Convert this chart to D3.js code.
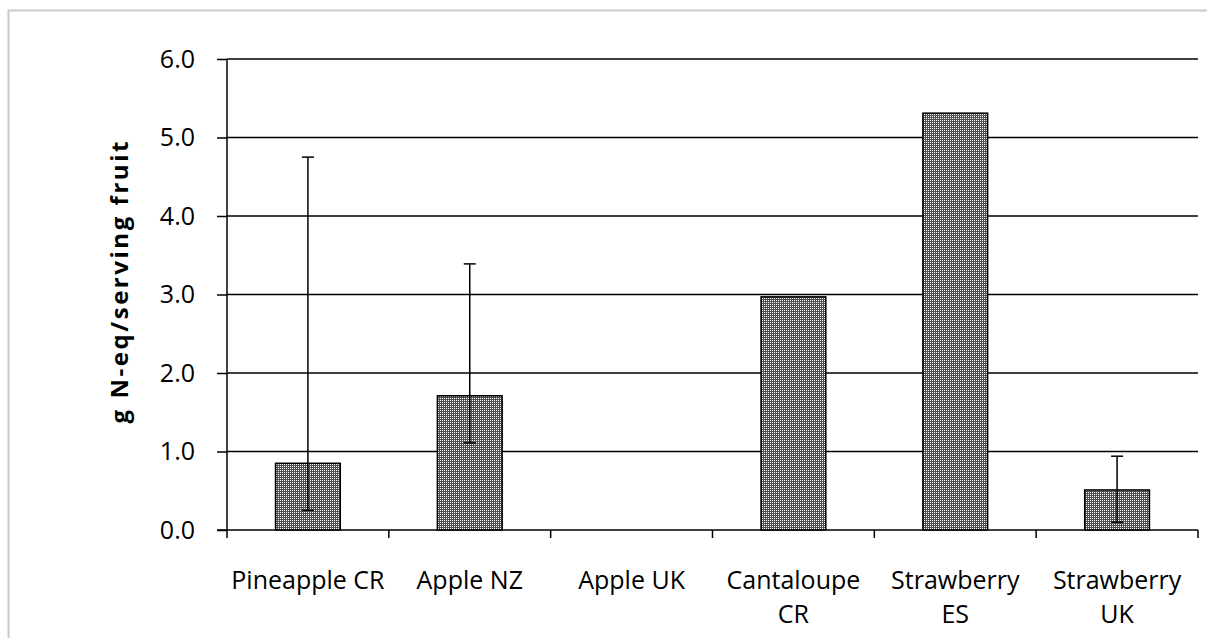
<!DOCTYPE html>
<html>
<head>
<meta charset="utf-8">
<script src="https://cdn.jsdelivr.net/npm/d3@7"></script>
<style>
  html, body { margin: 0; padding: 0; background: #fff; }
  svg { display: block; }
  text { font-family: "Open Sans", "Noto Sans", sans-serif; fill: #000; }
</style>
</head>
<body>
<svg id="chart" width="1207" height="638"></svg>
<script>
// Nitrogen footprint per serving of fruit, by product and origin
const categories = ["Pineapple CR", "Apple NZ", "Apple UK", "Cantaloupe CR", "Strawberry ES", "Strawberry UK"];
const labelLines = [["Pineapple CR"], ["Apple NZ"], ["Apple UK"], ["Cantaloupe", "CR"], ["Strawberry", "ES"], ["Strawberry", "UK"]];
const values   = [0.85, 1.71, 0, 2.97, 5.31, 0.51];
const errLow   = [0.25, 1.11, null, null, null, 0.10];
const errHigh  = [4.75, 3.39, null, null, null, 0.94];
const yTicks   = [0, 1, 2, 3, 4, 5, 6];
const yTitle   = "g N-eq/serving fruit";

const svg = d3.select("#chart");
const W = 1207, H = 638;
const plot = { left: 227, right: 1198, top: 59, bottom: 530 };

// chart frame
svg.append("rect")
  .attr("x", 8.5).attr("y", 10.5)
  .attr("width", W + 20).attr("height", H + 20)
  .attr("fill", "#fff").attr("stroke", "#cacaca").attr("stroke-width", 2);

// fine dotted fill for the bars
const defs = svg.append("defs");
const pat = defs.append("pattern")
  .attr("id", "dots").attr("patternUnits", "userSpaceOnUse")
  .attr("width", 2).attr("height", 2);
pat.append("rect").attr("width", 2).attr("height", 2).attr("fill", "#505050");
pat.append("rect").attr("width", 1).attr("height", 1).attr("fill", "#ffffff");

const x = d3.scaleBand()
  .domain(categories)
  .range([plot.left, plot.right])
  .paddingInner(0.6)
  .paddingOuter(0.3);

const y = d3.scaleLinear().domain([0, 6]).range([plot.bottom, plot.top]);

// horizontal gridlines
svg.append("g").selectAll("line")
  .data(yTicks.filter(d => d > 0))
  .join("line")
  .attr("x1", plot.left).attr("x2", plot.right)
  .attr("y1", d => y(d)).attr("y2", d => y(d))
  .attr("stroke", "#000").attr("stroke-width", 1.5);

// y axis
const yAxis = svg.append("g")
  .attr("transform", `translate(${plot.left},0)`)
  .call(d3.axisLeft(y).tickValues(yTicks).tickFormat(d3.format(".1f")).tickSize(10).tickPadding(22));
yAxis.select(".domain").attr("stroke", "#000").attr("stroke-width", 1.5).attr("d", `M0,${plot.top}V${plot.bottom}`);
yAxis.selectAll(".tick line").attr("stroke", "#000").attr("stroke-width", 1.5);
yAxis.selectAll(".tick text")
  .style("font-family", "'Open Sans', sans-serif")
  .style("font-size", "25px").attr("fill", "#262626");

// x axis baseline and category boundary ticks
const step = x.step();
const bounds = d3.range(categories.length + 1).map(i => plot.left + i * step);
svg.append("line")
  .attr("x1", plot.left - 10).attr("x2", plot.right)
  .attr("y1", plot.bottom).attr("y2", plot.bottom)
  .attr("stroke", "#000").attr("stroke-width", 1.5);
svg.append("g").selectAll("line")
  .data(bounds)
  .join("line")
  .attr("x1", d => d).attr("x2", d => d)
  .attr("y1", plot.bottom).attr("y2", plot.bottom + 8)
  .attr("stroke", "#000").attr("stroke-width", 1.5);

// bars
svg.append("g").selectAll("rect")
  .data(categories.map((c, i) => ({ c, v: values[i] })).filter(d => d.v > 0))
  .join("rect")
  .attr("x", d => x(d.c))
  .attr("width", x.bandwidth())
  .attr("y", d => y(d.v))
  .attr("height", d => y(0) - y(d.v))
  .attr("fill", "url(#dots)")
  .attr("stroke", "#000").attr("stroke-width", 1.5);

// error bars
const errs = categories.map((c, i) => ({ c, lo: errLow[i], hi: errHigh[i] })).filter(d => d.lo !== null);
const eg = svg.append("g").attr("stroke", "#000").attr("stroke-width", 1.5);
errs.forEach(d => {
  const cx = x(d.c) + x.bandwidth() / 2;
  eg.append("line").attr("x1", cx).attr("x2", cx).attr("y1", y(d.lo)).attr("y2", y(d.hi));
  eg.append("line").attr("x1", cx - 6).attr("x2", cx + 6).attr("y1", y(d.hi)).attr("y2", y(d.hi));
  eg.append("line").attr("x1", cx - 6).attr("x2", cx + 6).attr("y1", y(d.lo)).attr("y2", y(d.lo));
});

// category labels
const lg = svg.append("g");
categories.forEach((c, i) => {
  const t = lg.append("text")
    .attr("x", x(c) + x.bandwidth() / 2)
    .attr("y", 589)
    .attr("text-anchor", "middle")
    .style("font-size", "25px").attr("fill", "#262626");
  labelLines[i].forEach((line, j) => {
    t.append("tspan").attr("x", x(c) + x.bandwidth() / 2).attr("dy", j === 0 ? 0 : 34).text(line);
  });
});

// y axis title
svg.append("text")
  .attr("transform", `translate(128,${(plot.top + plot.bottom) / 2 - 12}) rotate(-90)`)
  .attr("text-anchor", "middle")
  .attr("textLength", 282).attr("lengthAdjust", "spacing")
  .style("font-size", "24px").style("font-weight", "bold")
  .text(yTitle);
</script>
</body>
</html>
